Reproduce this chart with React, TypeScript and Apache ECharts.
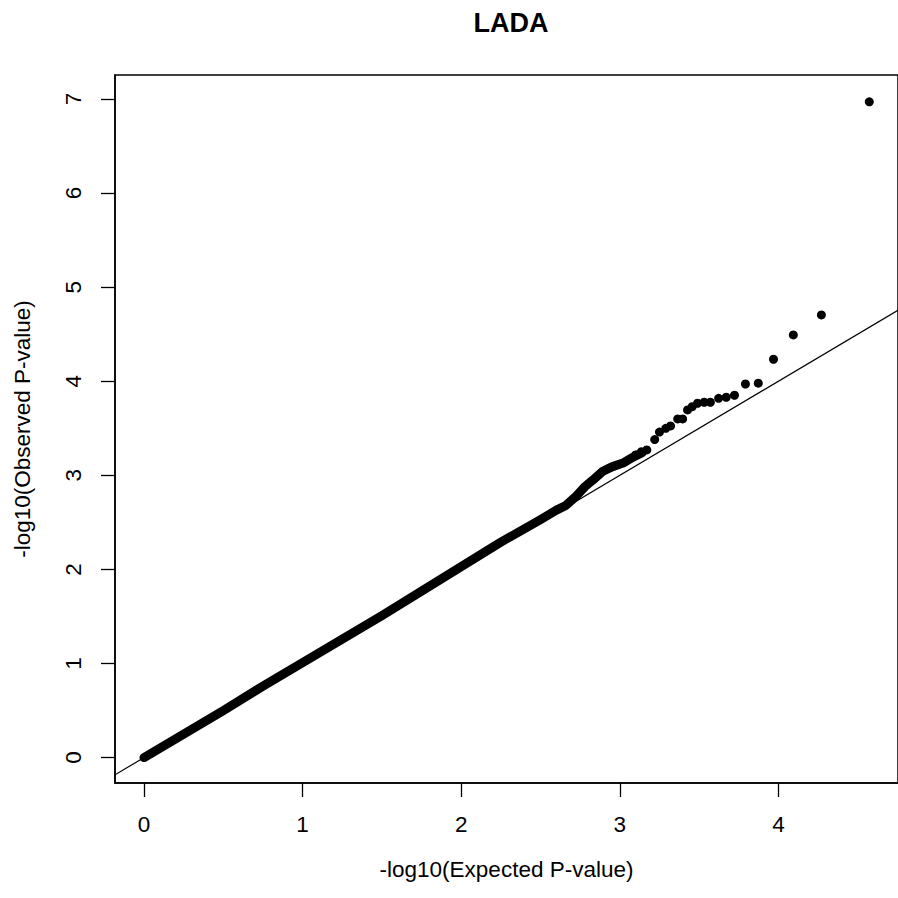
import React, { useEffect, useRef } from "react";
import * as echarts from "echarts";

// Tick values
const xTicks = [0, 1, 2, 3, 4];
const yTicks = [0, 1, 2, 3, 4, 5, 6, 7];

// Dense part of the QQ plot (points overlap into a continuous band)
const bandX = [0, 0.25, 0.5, 0.75, 1.0, 1.25, 1.5, 1.75, 2.0, 2.25, 2.5, 2.6, 2.66, 2.72, 2.78, 2.83, 2.89, 2.95, 3.02, 3.08, 3.14];
const bandY = [0, 0.25, 0.5, 0.76, 1.01, 1.26, 1.51, 1.77, 2.03, 2.29, 2.53, 2.63, 2.68, 2.77, 2.88, 2.95, 3.04, 3.09, 3.13, 3.19, 3.24];

// Sparse tail: individual points
const tailX = [3.1, 3.136, 3.17, 3.22, 3.25, 3.29, 3.32, 3.365, 3.396, 3.427, 3.456, 3.49, 3.532, 3.571, 3.623, 3.671, 3.723, 3.792, 3.873, 3.969, 4.094, 4.271, 4.573];
const tailY = [3.217, 3.252, 3.27, 3.38, 3.46, 3.5, 3.525, 3.6, 3.6, 3.695, 3.73, 3.766, 3.777, 3.777, 3.819, 3.83, 3.851, 3.971, 3.979, 4.234, 4.492, 4.705, 6.97];

// Reference line y = x
const refLine = [[-1, -1], [6, 6]];

const FONT = "'Liberation Sans', Arial, Helvetica, sans-serif";

export default function App() {
  const ref = useRef<HTMLDivElement>(null);

  useEffect(() => {
    if (!ref.current) return;
    const chart = echarts.init(ref.current, undefined, { renderer: "svg" });
    const band = bandX.map((x, i) => [x, bandY[i]]);
    const tail = tailX.map((x, i) => [x, tailY[i]]);
    chart.setOption({
      animation: false,
      backgroundColor: "#fff",
      title: {
        text: "LADA",
        left: 506,
        top: 4,
        textAlign: "center",
        textStyle: { fontFamily: FONT, fontSize: 27, fontWeight: "bold", color: "#000" },
      },
      grid: {
        left: 115,
        top: 75,
        width: 790,
        height: 708,
        show: true,
        borderColor: "#000",
        borderWidth: 1.5,
        backgroundColor: "transparent",
      },
      xAxis: {
        type: "value",
        min: -0.183,
        max: 4.754,
        axisLine: { show: true, onZero: false, lineStyle: { color: "#000", width: 1.5 } },
        splitLine: { show: false },
        axisTick: { show: true, length: 14, customValues: xTicks, lineStyle: { color: "#000", width: 1.3 } },
        axisLabel: { customValues: xTicks, fontSize: 22.5, color: "#000", fontFamily: FONT, margin: 30 },
        name: "-log10(Expected P-value)",
        nameLocation: "middle",
        nameGap: 75,
        nameTextStyle: { fontSize: 22.5, color: "#000", fontFamily: FONT },
      },
      yAxis: {
        type: "value",
        min: -0.27,
        max: 7.255,
        axisLine: { show: true, onZero: false, lineStyle: { color: "#000", width: 1.5 } },
        splitLine: { show: false },
        axisTick: { show: true, length: 14, customValues: yTicks, lineStyle: { color: "#000", width: 1.3 } },
        axisLabel: { customValues: yTicks, fontSize: 22.5, color: "#000", fontFamily: FONT, rotate: 90, margin: 30 },
        name: "-log10(Observed P-value)",
        nameLocation: "middle",
        nameRotate: 90,
        nameGap: 81,
        nameTextStyle: { fontSize: 22.5, color: "#000", fontFamily: FONT },
      },
      series: [
        {
          type: "line",
          data: refLine,
          symbol: "none",
          clip: true,
          lineStyle: { color: "#000", width: 1.2 },
          z: 1,
        },
        {
          type: "line",
          data: band,
          symbol: "none",
          clip: true,
          smooth: false,
          lineStyle: { color: "#000", width: 9, cap: "round", join: "round" },
          z: 2,
        },
        {
          type: "scatter",
          data: tail,
          symbol: "circle",
          symbolSize: 9,
          itemStyle: { color: "#000", opacity: 1 },
          z: 3,
        },
      ],
    });
    return () => chart.dispose();
  }, []);

  return (
    <div
      ref={ref}
      style={{ position: "absolute", left: 0, top: 0, width: 898, height: 898, background: "#fff" }}
    />
  );
}
